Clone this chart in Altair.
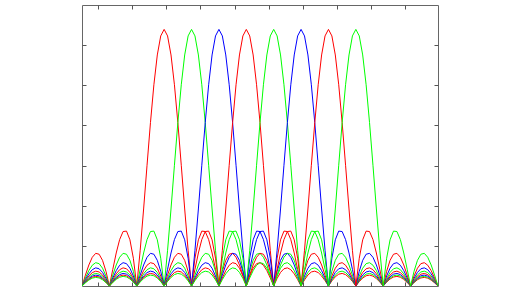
import altair as alt
import numpy as np
import pandas as pd

# Subcarrier centres (normalised frequency) and their colours
centers = [0, 1, 2, 3, 4, 5, 6, 7]
series_names = ["s1", "s2", "s3", "s4", "s5", "s6", "s7", "s8"]
series_colors = ["#ff0000", "#00ff00", "#0000ff", "#ff0000",
                 "#00ff00", "#0000ff", "#ff0000", "#00ff00"]

# Magnitude profile of one subcarrier,
# at offsets 0, 0.125, 0.25, ... 10 from its centre (symmetric)
half_profile = [
    1.0, 0.9745, 0.9003, 0.7842, 0.6366, 0.4705, 0.3001, 0.1392,
    0.0, 0.1083, 0.1801, 0.2139, 0.2122, 0.1810, 0.1286, 0.0650,
    0.0, 0.0573, 0.1000, 0.1238, 0.1273, 0.1120, 0.0819, 0.0424,
    0.0, 0.0390, 0.0693, 0.0871, 0.0909, 0.0811, 0.0600, 0.0314,
    0.0, 0.0295, 0.0530, 0.0672, 0.0707, 0.0636, 0.0474, 0.0250,
    0.0, 0.0238, 0.0429, 0.0547, 0.0579, 0.0523, 0.0391, 0.0207,
    0.0, 0.0199, 0.0360, 0.0461, 0.0490, 0.0444, 0.0334, 0.0177,
    0.0, 0.0171, 0.0311, 0.0399, 0.0424, 0.0386, 0.0290, 0.0155,
    0.0, 0.0150, 0.0273, 0.0351, 0.0375, 0.0341, 0.0257, 0.0137,
    0.0, 0.0134, 0.0243, 0.0314, 0.0335, 0.0306, 0.0231, 0.0123,
    0.0,
]
step = 0.125

x_domain = [-3, 10]
y_domain = [0, 1.095]
x_ticks = [-2.405, -1.161, 0.082, 1.326, 2.569, 3.813, 5.057, 6.300, 7.544, 8.787]
y_ticks = [0.1564, 0.3129, 0.4693, 0.6257, 0.7821, 0.9386]

# Build long table
full_vals = half_profile[:0:-1] + half_profile
n_half = len(half_profile) - 1
rows = []
for name, c in zip(series_names, centers):
    for i, v in enumerate(full_vals):
        f = c + (i - n_half) * step
        if x_domain[0] - 1e-9 <= f <= x_domain[1] + 1e-9:
            rows.append({"f": f, "amp": v, "series": name})
df = pd.DataFrame(rows)

tick_color = "#555555"

xs = alt.Scale(domain=x_domain, nice=False, zero=False)
ys = alt.Scale(domain=y_domain, nice=False, zero=False)
col = alt.Color("series:N", scale=alt.Scale(domain=series_names, range=series_colors), legend=None)

def axis(orient, values):
    return alt.Axis(orient=orient, values=values, labels=False, title=None, grid=False,
                    domain=False, ticks=True, tickSize=4, offset=-4,
                    tickColor=tick_color, tickWidth=1)

lines = alt.Chart(df).mark_line(strokeWidth=1, clip=True).encode(
    x=alt.X("f:Q", scale=xs, axis=axis("bottom", x_ticks)),
    y=alt.Y("amp:Q", scale=ys, axis=axis("left", y_ticks)),
    color=col,
    detail="series:N",
)

ghost = alt.Chart(df).mark_line(opacity=0).encode(
    x=alt.X("f:Q", scale=xs, axis=axis("top", x_ticks)),
    y=alt.Y("amp:Q", scale=ys, axis=axis("right", y_ticks)),
    detail="series:N",
)

chart = alt.layer(ghost, lines).resolve_axis(x="independent", y="independent").properties(
    width=356, height=281,
    padding={"left": 82, "top": 5, "right": 82, "bottom": 6},
    autosize="none",
    background="white",
).configure_view(stroke="#666666", strokeWidth=1)

chart.save("out.html", embed_options={"renderer": "svg", "actions": False})
